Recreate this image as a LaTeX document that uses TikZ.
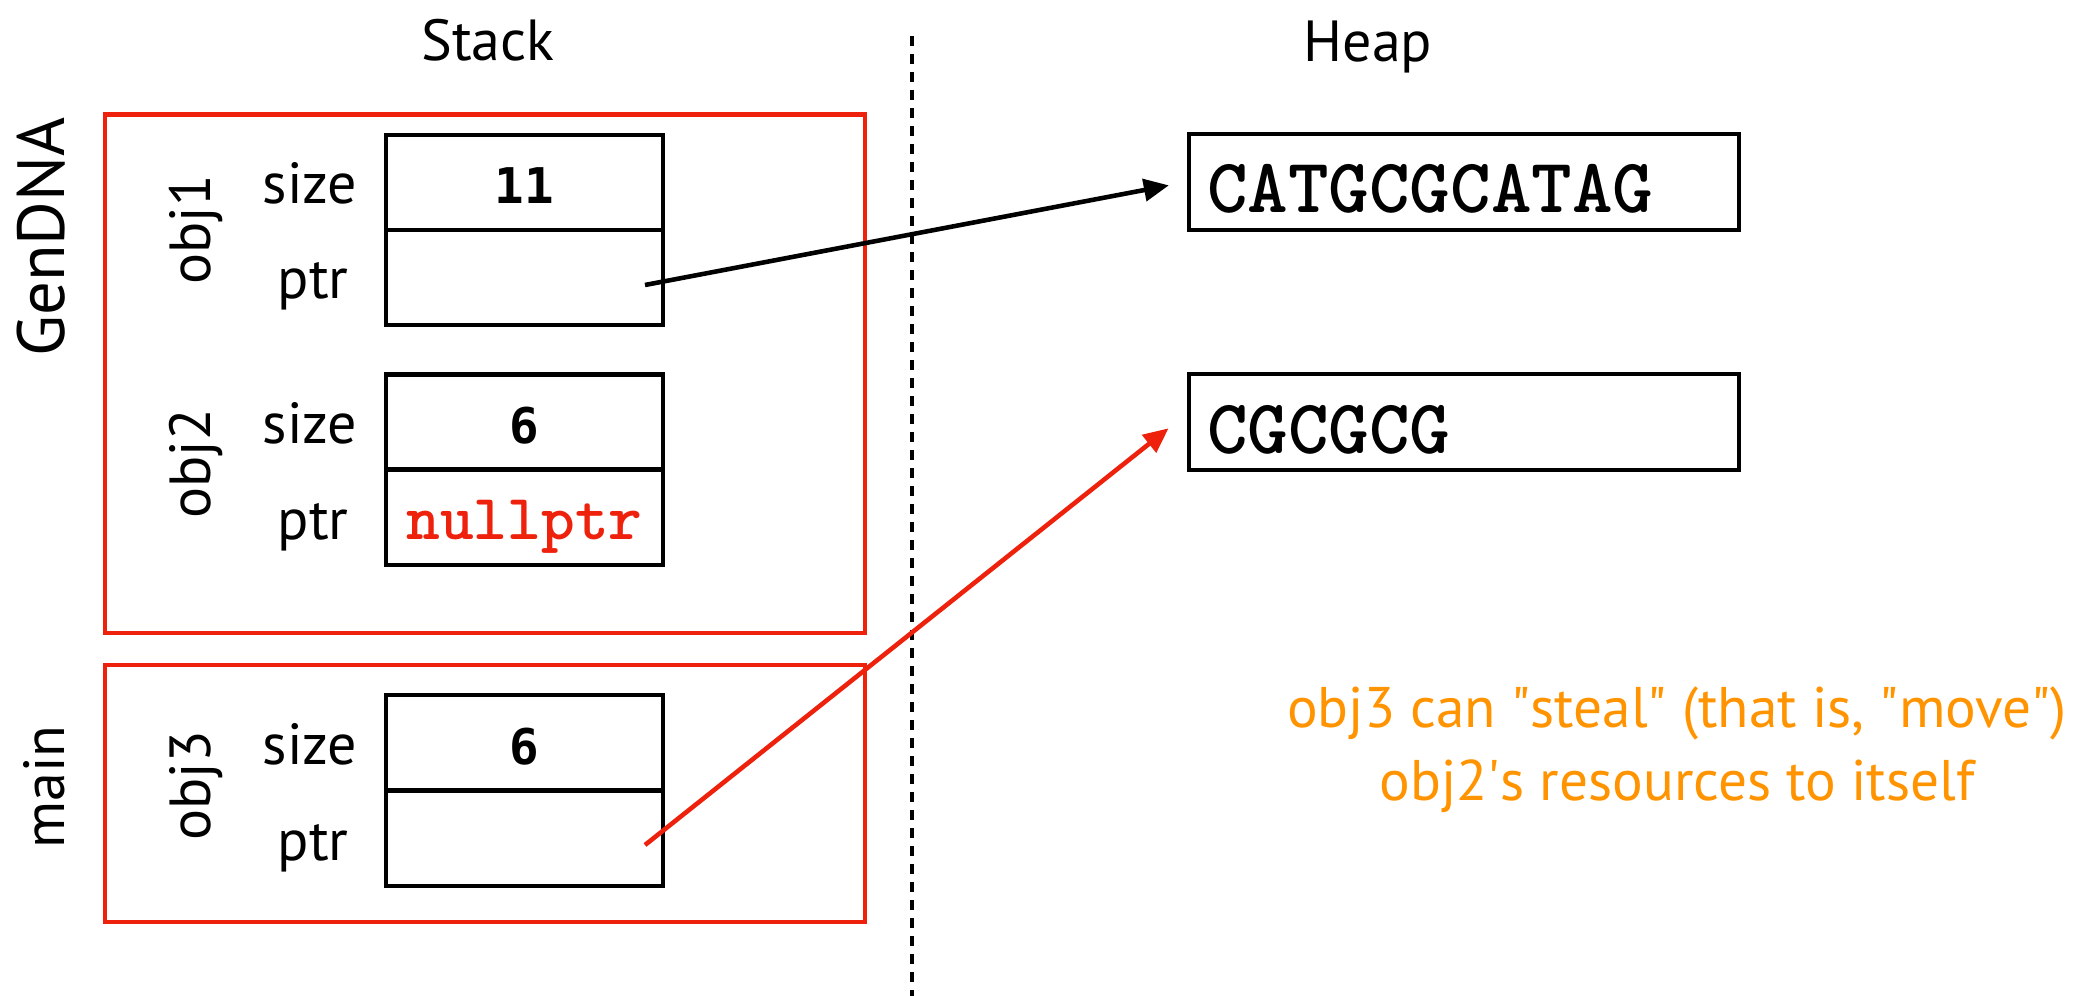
\documentclass[tikz,border=0pt]{standalone}
\usepackage{fontspec}
\setmainfont{PT Sans}
\newfontfamily\numfont{DejaVu Sans Mono}
\usetikzlibrary{positioning,arrows.meta}

\definecolor{framered}{RGB}{238,34,12}
\definecolor{noteorange}{RGB}{255,147,0}

\tikzset{
	lbl/.style={font=\fontsize{16.5}{20}\selectfont, inner sep=0pt},
	cell/.style={draw, line width=1.4pt, minimum width=2.77cm, minimum height=0.95cm,
		outer sep=0pt, inner sep=0pt, text height=0.43cm, text depth=0cm,
		font=\numfont\bfseries\fontsize{14}{16}\selectfont},
	heapcell/.style={draw, line width=1.4pt, minimum height=0.96cm, inner xsep=0.18cm,
		inner ysep=0pt, text width=5.14cm, align=left, text height=0.62cm, text depth=0cm,
		font=\ttfamily\bfseries\fontsize{22}{25}\selectfont},
	frame/.style={draw=framered, line width=1.4pt, minimum width=7.6cm, inner sep=0pt},
	ptrarrow/.style={line width=1.3pt, -{Triangle[length=0.25cm,width=0.22cm]}},
	divider/.style={line width=1.3pt, dash pattern=on 0.1cm off 0.08cm}
}

\begin{document}
\begin{tikzpicture}[on grid]
	\useasboundingbox (0,0) rectangle (20.98,-9.96);

	% Headings and divider
	\node [lbl, anchor=base] (stack) at (4.88,-0.61) {Stack};
	\node [lbl, anchor=base] (heap) at (13.68,-0.62) {Heap};
	\draw [divider] (9.12,-0.36) -- (9.12,-9.96);

	% Stack frames
	\node [frame, minimum height=5.185cm] (gendna) at (4.85,-3.7375) {};
	\node [frame, minimum height=2.57cm] (mainfn) at (4.85,-7.935) {};
	\node [lbl, rotate=90, anchor=base, font=\fontsize{19}{22}\selectfont] (gendnaname) at (0.645,-2.37) {GenDNA};
	\node [lbl, rotate=90, anchor=base] (mainname) at (0.64,-7.87) {main};

	% obj1
	\node [cell] (o1size) at (5.245,-1.825) {11};
	\node [cell, below=0.95cm of o1size] (o1ptr) {};
	\node [lbl, rotate=90, anchor=base] (o1name) at (2.10,-2.30) {obj1};
	\node [lbl, anchor=base] (o1sizelbl) at ([xshift=-2.145cm,yshift=-0.215cm]o1size.center) {size};
	\node [lbl, anchor=base] (o1ptrlbl) at ([xshift=-2.115cm,yshift=-0.215cm]o1ptr.center) {ptr};

	% obj2
	\node [cell] (o2size) at (5.245,-4.22) {6};
	\node [cell, below=0.955cm of o2size, text=framered,
		font=\ttfamily\bfseries\fontsize{18.3}{20}\selectfont] (o2ptr) {nullptr};
	\node [lbl, rotate=90, anchor=base] (o2name) at (2.10,-4.64) {obj2};
	\node [lbl, anchor=base] (o2sizelbl) at ([xshift=-2.145cm,yshift=-0.215cm]o2size.center) {size};
	\node [lbl, anchor=base] (o2ptrlbl) at ([xshift=-2.115cm,yshift=-0.215cm]o2ptr.center) {ptr};

	% obj3
	\node [cell] (o3size) at (5.245,-7.425) {6};
	\node [cell, below=0.96cm of o3size] (o3ptr) {};
	\node [lbl, rotate=90, anchor=base] (o3name) at (2.10,-7.86) {obj3};
	\node [lbl, anchor=base] (o3sizelbl) at ([xshift=-2.145cm,yshift=-0.215cm]o3size.center) {size};
	\node [lbl, anchor=base] (o3ptrlbl) at ([xshift=-2.115cm,yshift=-0.215cm]o3ptr.center) {ptr};

	% Heap blocks
	\node [heapcell] (heap1) at (14.64,-1.82) {CATGCGCATAG};
	\node [heapcell] (heap2) at (14.64,-4.22) {CGCGCG};

	% Pointers
	\coordinate (o1ref) at ([xshift=1.205cm,yshift=-0.075cm]o1ptr.center);
	\coordinate (o3ref) at ([xshift=1.205cm,yshift=-0.065cm]o3ptr.center);
	\draw [ptrarrow, shorten >=0.18cm] (o1ref) -- (heap1.west);
	\draw [ptrarrow, framered, shorten >=0.23cm] (o3ref) -- ([yshift=0.08cm]heap2.west);

	% Note
	\node [lbl, text=noteorange, align=center, font=\fontsize{16.3}{20.8}\selectfont] (note)
		at (16.77,-7.5) {obj3 can \textquotedbl steal\textquotedbl{} (that is, \textquotedbl move\textquotedbl)\\obj2\textquotesingle s resources to itself};
\end{tikzpicture}
\end{document}
